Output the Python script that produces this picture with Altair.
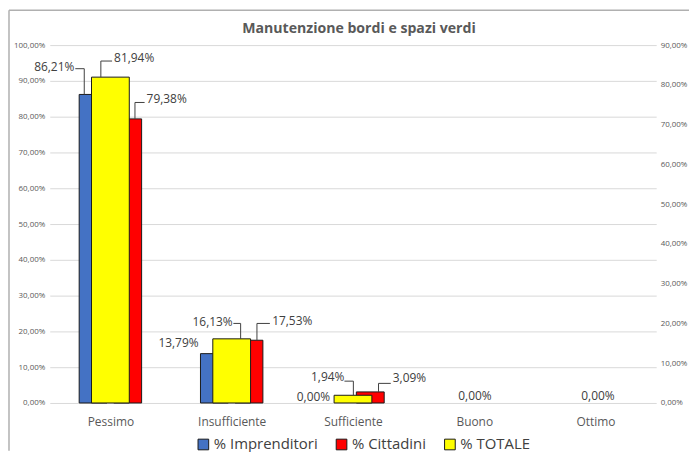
import json
import altair as alt
import pandas as pd

# ---------------- data ----------------
categories = ["Pessimo", "Insufficiente", "Sufficiente", "Buono", "Ottimo"]
series_names = ["% Imprenditori", "% Cittadini", "% TOTALE"]
imprenditori = [86.21, 13.79, 0.00, 0.00, 0.00]
cittadini = [79.38, 17.53, 3.09, 0.00, 0.00]
totale = [81.94, 16.13, 1.94, 0.00, 0.00]
left_ticks = list(range(0, 101, 10))
right_ticks = list(range(0, 91, 10))
title_text = "Manutenzione bordi e spazi verdi"

# ---------------- styles / layout ----------------
colors = ["#4472C4", "#FF0000", "#FFFF00"]
W, H = 610, 360
BAND = W / len(categories)
PAD = {"left": 42, "top": 36, "right": 33, "bottom": 48}
L_MAX, R_MAX = 100, 90
FONT = "Open Sans"

values = {"% Imprenditori": imprenditori, "% Cittadini": cittadini, "% TOTALE": totale}
bar_span = {"% Imprenditori": (-31.4, -3.4), "% Cittadini": (3.4, 31.4), "% TOTALE": (-19.0, 19.0)}

# label placement (px offsets from category centre / bar top) and leader lines
label_style = [
    (0, "% Imprenditori", -36.3, -27.9, "right", (-26.3, -25.9, -35.3)),
    (0, "% TOTALE", 3.7, -19.5, "left", (-9.6, -16.2, 1.7)),
    (0, "% Cittadini", 36.4, -19.9, "left", (24.7, -16.5, 34.4)),
    (1, "% Imprenditori", -33.3, -11.1, "right", None),
    (1, "% TOTALE", 1.0, -16.8, "right", (9.0, -15.5, 1.7)),
    (1, "% Cittadini", 40.7, -19.2, "left", (25.4, -16.9, 38.4)),
    (2, "% Imprenditori", -23.0, -5.7, "right", None),
    (2, "% TOTALE", -8.6, -17.9, "right", (0.4, -14.2, -8.6)),
    (2, "% Cittadini", 40.0, -13.9, "left", (25.7, -8.6, 38.0)),
    (3, "% TOTALE", 0.7, -7.3, "center", None),
    (4, "% TOTALE", 2.4, -7.3, "center", None),
]


def fmt(v):
    return f"{v:.2f}".replace(".", ",") + "%"


def ymax(s):
    return R_MAX if s == "% TOTALE" else L_MAX


# ---------------- tables ----------------
bar_rows = []
for s in series_names:
    for i, c in enumerate(categories):
        if values[s][i] <= 0:
            continue
        a, b = bar_span[s]
        bar_rows.append({"serie": s, "cat": c, "x": i + a / BAND, "x2": i + b / BAND,
                         "y": values[s][i], "zero": 0.0})
bars = pd.DataFrame(bar_rows)

lab_rows, seg_rows = [], []
for i, s, tx, ty, al, leader in label_style:
    v = values[s][i]
    k = ymax(s) / H
    lab_rows.append({"serie": s, "x": i + tx / BAND, "y": v - ty * k, "align": al, "text": fmt(v)})
    if leader:
        vx, ey, hx = leader
        ye = v - ey * k
        seg_rows.append({"serie": s, "x": i + vx / BAND, "x2": i + vx / BAND, "y": v, "y2": ye})
        seg_rows.append({"serie": s, "x": i + vx / BAND, "x2": i + hx / BAND, "y": ye, "y2": ye})
labels = pd.DataFrame(lab_rows)
segs = pd.DataFrame(seg_rows)

# ---------------- scales / axes ----------------
x_scale = alt.Scale(domain=[-0.5, len(categories) - 0.5], nice=False, zero=False)
x_axis = alt.Axis(values=list(range(len(categories))),
                  labelExpr=json.dumps(categories) + "[datum.value]",
                  title=None, domain=False, ticks=False, grid=False,
                  labelFont=FONT, labelFontSize=12, labelColor="#595959", labelPadding=14)
yl_scale = alt.Scale(domain=[0, L_MAX], nice=False, zero=True)
yr_scale = alt.Scale(domain=[0, R_MAX], nice=False, zero=True)
pct_expr = "replace(format(datum.value, '.2f'), '.', ',') + '%'"
yl_axis = alt.Axis(values=left_ticks, labelExpr=pct_expr, title=None, domain=False, ticks=False,
                   grid=True, gridColor="#d9d9d9", gridWidth=1,
                   labelFont=FONT, labelFontSize=8, labelColor="#595959", labelPadding=5)
yr_axis = alt.Axis(values=right_ticks, labelExpr=pct_expr, title=None, domain=False, ticks=False,
                   grid=False, orient="right",
                   labelFont=FONT, labelFontSize=8, labelColor="#595959", labelPadding=4)

color = alt.Color("serie:N", scale=alt.Scale(domain=series_names, range=colors),
                  legend=alt.Legend(orient="none", legendX=147, legendY=394, direction="horizontal",
                                    title=None, symbolType="square", symbolSize=115,
                                    symbolStrokeColor="#1a1a1a", symbolStrokeWidth=1,
                                    labelFont=FONT, labelFontSize=15, labelColor="#404040",
                                    columnPadding=16, labelOffset=3, padding=0,
                                    labelLimit=300))


def text_layers(df, yscale, yaxis):
    out = []
    for al in ["left", "right", "center"]:
        sub = df[df["align"] == al]
        if len(sub) == 0:
            continue
        out.append(alt.Chart(sub).mark_text(align=al, baseline="middle", font=FONT, fontSize=12,
                                            color="#404040").encode(
            x=alt.X("x:Q", scale=x_scale, axis=x_axis),
            y=alt.Y("y:Q", scale=yscale, axis=yaxis),
            text="text:N"))
    return out


def seg_layer(df, yscale, yaxis):
    return alt.Chart(df).mark_rule(color="#404040", strokeWidth=1).encode(
        x=alt.X("x:Q", scale=x_scale, axis=x_axis), x2="x2:Q",
        y=alt.Y("y:Q", scale=yscale, axis=yaxis), y2="y2:Q")


prim = ["% Imprenditori", "% Cittadini"]
left_bars = alt.Chart(bars[bars["serie"].isin(prim)]).mark_rect(stroke="#1a1a1a", strokeWidth=1).encode(
    x=alt.X("x:Q", scale=x_scale, axis=x_axis), x2="x2:Q",
    y=alt.Y("y:Q", scale=yl_scale, axis=yl_axis), y2="zero:Q",
    color=color)
# decorative chart frame and title (pixel positions relative to the plot area)
deco = pd.DataFrame({"k": [0]})
border_left = alt.Chart(deco).mark_rule(color="#b0b0b0", strokeWidth=1.5).encode(
    x=alt.value(-PAD["left"] + 1), x2=alt.value(-PAD["left"] + 1),
    y=alt.value(-PAD["top"] + 1), y2=alt.value(H + PAD["bottom"]))
border_top = alt.Chart(deco).mark_rule(color="#b0b0b0", strokeWidth=1.5).encode(
    x=alt.value(-PAD["left"] + 1), x2=alt.value(W + PAD["right"]),
    y=alt.value(-PAD["top"] + 1), y2=alt.value(-PAD["top"] + 1))
title = alt.Chart(deco).mark_text(text=title_text, font=FONT, fontSize=14.2, fontWeight="bold",
                                  color="#595959", align="center", baseline="alphabetic").encode(
    x=alt.value(W / 2 + 6), y=alt.value(-12.5))

lab_l = labels[labels["serie"].isin(prim)]
seg_l = segs[segs["serie"].isin(prim)]
left = alt.layer(left_bars, seg_layer(seg_l, yl_scale, yl_axis),
                 *text_layers(lab_l, yl_scale, yl_axis), border_left, border_top, title)

right_bars = alt.Chart(bars[bars["serie"] == "% TOTALE"]).mark_rect(stroke="#1a1a1a", strokeWidth=1).encode(
    x=alt.X("x:Q", scale=x_scale, axis=x_axis), x2="x2:Q",
    y=alt.Y("y:Q", scale=yr_scale, axis=yr_axis), y2="zero:Q",
    color=color)
lab_r = labels[labels["serie"] == "% TOTALE"]
seg_r = segs[segs["serie"] == "% TOTALE"]
right = alt.layer(right_bars, seg_layer(seg_r, yr_scale, yr_axis), *text_layers(lab_r, yr_scale, yr_axis))

chart = alt.layer(left, right).resolve_scale(y="independent").properties(
    width=W, height=H,
    autosize=alt.AutoSizeParams(type="none"),
    padding=PAD,
    background="white",
).configure_view(stroke=None)

chart.save("out.html", embed_options={"renderer": "svg", "actions": False})
